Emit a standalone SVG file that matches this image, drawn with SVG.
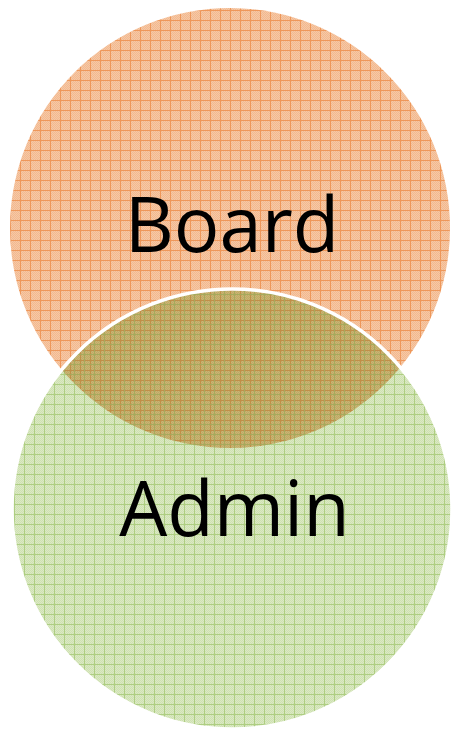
<svg xmlns="http://www.w3.org/2000/svg" width="451" height="731" viewBox="0 0 451 731">
  <style>
    .lbl { font-family: "Open Sans", "Noto Sans", "Liberation Sans", sans-serif; font-size: 76px; fill: #000000; text-anchor: middle; }
  </style>
  <defs>
    <pattern id="chkO" width="2" height="2" patternUnits="userSpaceOnUse">
      <rect width="2" height="2" fill="#F6C8A6"/>
      <rect width="1" height="1" fill="#F2B98F"/>
      <rect x="1" y="1" width="1" height="1" fill="#F2B98F"/>
    </pattern>
    <pattern id="gridO" width="10" height="10" patternUnits="userSpaceOnUse">
      <rect width="10" height="10" fill="url(#chkO)"/>
      <rect x="0" y="0" width="10" height="1" fill="#EE975A"/>
      <rect x="0" y="0" width="1" height="10" fill="#EE975A"/>
    </pattern>
    <pattern id="chkG" width="2" height="2" patternUnits="userSpaceOnUse">
      <rect width="2" height="2" fill="#DBE9C4"/>
      <rect width="1" height="1" fill="#CEE1B1"/>
      <rect x="1" y="1" width="1" height="1" fill="#CEE1B1"/>
    </pattern>
    <pattern id="gridG" width="10" height="10" patternUnits="userSpaceOnUse">
      <rect width="10" height="10" fill="url(#chkG)"/>
      <rect x="0" y="4" width="10" height="1" fill="#AECE82"/>
      <rect x="4" y="0" width="1" height="10" fill="#AECE82"/>
    </pattern>
    <pattern id="chkM" width="2" height="2" patternUnits="userSpaceOnUse">
      <rect width="2" height="2" fill="#CAB673"/>
      <rect width="1" height="1" fill="#BFA866"/>
      <rect x="1" y="1" width="1" height="1" fill="#BFA866"/>
    </pattern>
    <pattern id="gridM" width="10" height="10" patternUnits="userSpaceOnUse">
      <rect width="10" height="10" fill="url(#chkM)"/>
      <rect x="0" y="0" width="10" height="1" fill="#C08F48"/>
      <rect x="0" y="0" width="1" height="10" fill="#C08F48"/>
      <rect x="0" y="4" width="10" height="1" fill="#A6AA5C"/>
      <rect x="4" y="0" width="1" height="10" fill="#A6AA5C"/>
    </pattern>
    <clipPath id="boardClip">
      <circle cx="230" cy="228" r="220"/>
    </clipPath>
  </defs>
  <g id="board">
    <circle cx="230" cy="228" r="220" fill="url(#gridO)"/>
  </g>
  <g id="admin">
    <circle cx="232" cy="509" r="220" fill="url(#gridG)"/>
    <circle cx="232" cy="509" r="220" fill="url(#gridM)" clip-path="url(#boardClip)"/>
    <circle cx="232" cy="509" r="220" fill="none" stroke="#FFFFFF" stroke-width="3.5"/>
  </g>
  <g id="labels">
    <text class="lbl" x="232" y="252">Board</text>
    <text class="lbl" x="234.5" y="536">Admin</text>
  </g>
  <g id="connectors"/>
</svg>
